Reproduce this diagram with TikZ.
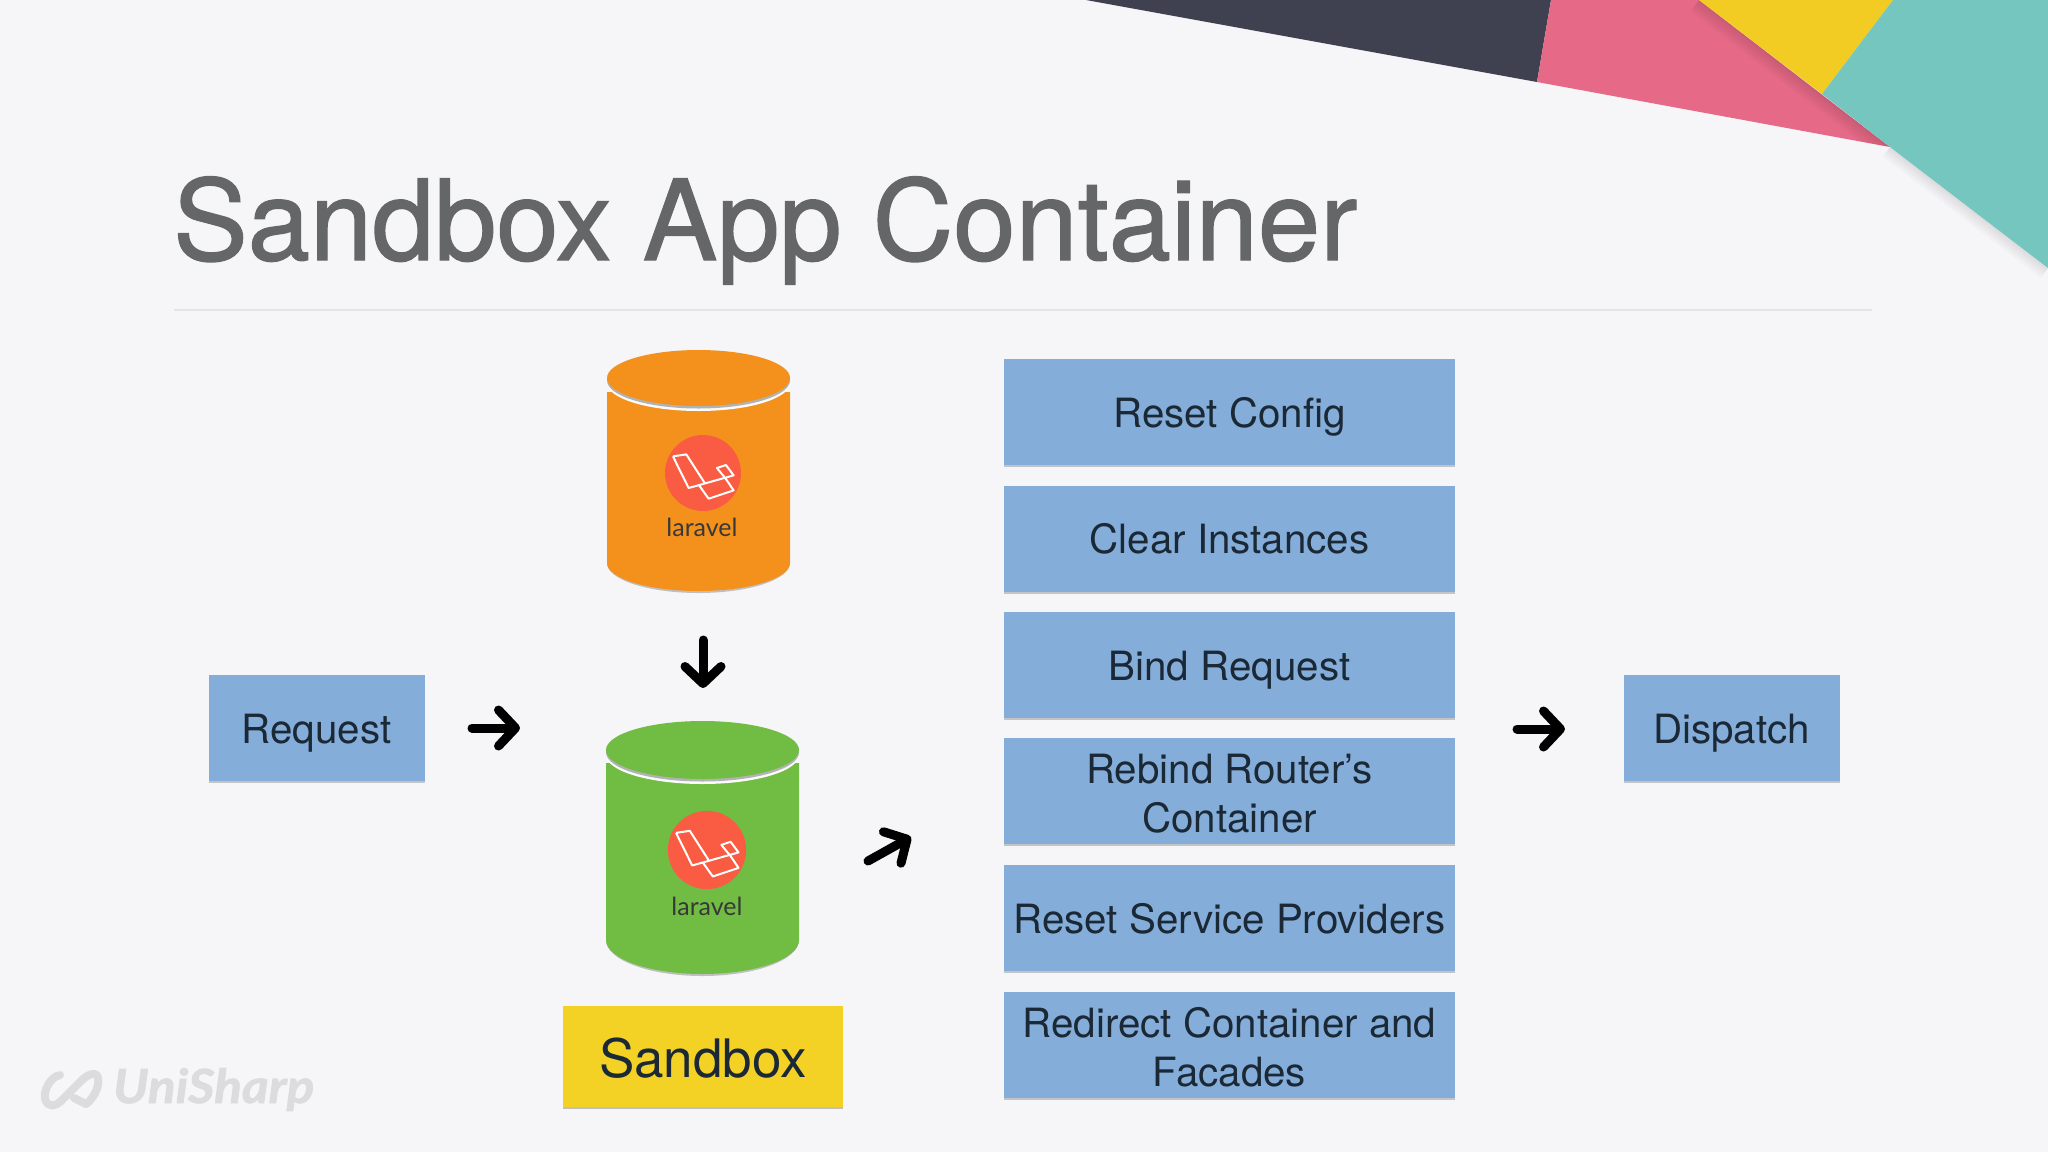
\documentclass[tikz,border=0pt]{standalone}
\usepackage{fontspec}
\setmainfont{TeX Gyre Heros}
\newfontfamily\titlefont[FakeBold=1.2]{TeX Gyre Heros}
\newfontfamily\lblfont{Lato}
\newfontfamily\brandfont{Lato}[BoldItalicFeatures={FakeStretch=1.09,FakeBold=1.6}]
\usetikzlibrary{arrows.meta}
\definecolor{bgc}{HTML}{F6F6F8}
\definecolor{boxblue}{HTML}{84ADD9}
\definecolor{inkc}{HTML}{1B2835}
\definecolor{titlec}{HTML}{646668}
\definecolor{ruleg}{HTML}{E4E4E6}
\definecolor{darkc}{HTML}{3F4150}
\definecolor{pinkc}{HTML}{E66A88}
\definecolor{yelc}{HTML}{F2CC22}
\definecolor{tealc}{HTML}{75C6BF}
\definecolor{orangec}{HTML}{F4911C}
\definecolor{greenc}{HTML}{71BC43}
\definecolor{sandc}{HTML}{F4D225}
\definecolor{redc}{HTML}{F95C42}
\definecolor{brandc}{HTML}{DCDCDE}
\newcommand{\onel}{\rule[-10pt]{0pt}{50pt}}
\newcommand{\topl}{\rule{0pt}{40pt}}
\newcommand{\botl}{\rule[-7pt]{0pt}{7pt}}
\tikzset{
  x=1pt,y=-1pt,
  stepbox/.style={fill=boxblue,minimum width=451pt,minimum height=106pt,inner sep=0pt,align=center,
    font=\fontsize{40.3}{49}\selectfont,text=inkc},
  sidebox/.style={stepbox,minimum width=216pt},
  bigarrow/.style={line width=9pt,line cap=round,black,
    -{Straight Barb[round,length=17pt,width=36pt,line width=9pt]}},
  lbl/.style={font=\lblfont\fontsize{25}{25}\selectfont,text=black!78,inner sep=0pt},
  lara/.pic={
    \fill[redc] (0,0) circle[radius=38];
    \draw[white,line width=2pt,line join=round,xshift=-142.7pt,yshift=143.3pt,x=0.3333pt,y=-0.3333pt]
      (338,380)--(378,374)--(432,458)
      (338,380)--(385,475)--(520,437)--(497,406)--(470,415)--(497,448)--(520,482)--(445,507)--(415,465);
  },
}
% #1 colour, #2 left, #3 right, #4 ellipse centre y, #5 ellipse ry, #6 side start, #7 side end, #8 bottom y
\newcommand{\tincan}[8]{%
  \fill[black,opacity=.22] (#2,#7) arc[start angle=180,end angle=0,x radius=(#3-#2)/2,y radius=#8-#7+2] -- cycle;
  \fill[#1] (#2,#6) -- (#2,#7) arc[start angle=180,end angle=0,x radius=(#3-#2)/2,y radius=#8-#7] -- (#3,#6) -- cycle;
  \fill[white!97!gray] ({(#2+#3)/2},#4+5) ellipse[x radius=(#3-#2)/2,y radius=#5];
  \fill[black!30!white] ({(#2+#3)/2},#4+2.5) ellipse[x radius=(#3-#2)/2,y radius=#5];
  \fill[#1] ({(#2+#3)/2},#4) ellipse[x radius=(#3-#2)/2,y radius=#5];
}
\begin{document}
\begin{tikzpicture}
\useasboundingbox (0,0) rectangle (2048,1152);
\fill[bgc] (0,0) rectangle (2048,1152);
% corner shapes
\fill[darkc] (1086,0) -- (1551,0) -- (1537,82) -- cycle;
\fill[pinkc] (1551,0) -- (1699,0) -- (1890,147) -- (1537,82) -- cycle;
\begin{scope}
  \clip (1551,0) -- (1699,0) -- (1890,147) -- (1537,82) -- cycle;
  \foreach \w in {4,10,16,22,28}{\draw[black,opacity=.025,line width=\w pt] (1699,0) -- (1890,147);}
\end{scope}
\fill[yelc] (1699,0) -- (1893,0) -- (1822,94) -- cycle;
\begin{scope}
  \clip (0,0) rectangle (2048,1152);
  \foreach \w in {4,9,14,19,24}{\draw[black,opacity=.018,line width=\w pt] (1890,147) -- (2048,268);}
\end{scope}
\fill[tealc] (1893,0) -- (2048,0) -- (2048,268) -- (1890,147) -- (1822,94) -- cycle;
% title and rule
\node[anchor=base west,inner sep=0pt,text=titlec,font=\titlefont\fontsize{111.8}{111}\selectfont] (title) at (173,260) {Sandbox App Container};
\coordinate (ruleL) at (174,310);
\coordinate (ruleR) at (1872,310);
\draw[ruleg,line width=2pt] (ruleL) -- (ruleR);
% cylinders
\tincan{orangec}{607}{790}{378}{28}{392}{563}{591}
\pic at (703,473) {lara};
\node[lbl] (lblA) at (702,527) {laravel};
\tincan{greenc}{606}{799}{750}{29}{763}{940}{974}
\pic[scale=1.03] at (707,850) {lara};
\node[lbl] (lblB) at (707,906) {laravel};
% box shadows
\foreach \yy in {412,538.5,665,791,918,1045}{\fill[black,opacity=.2] (1004,\yy-45) rectangle (1455,\yy+55);}
\foreach \xx in {316.5,1731.5}{\fill[black,opacity=.2] (\xx-108,690) rectangle (\xx+108,783);}
\fill[black,opacity=.22] (563,1020) rectangle (843,1109);
% boxes
\node[stepbox] (s1) at (1229.5,412) {\onel Reset Config};
\node[stepbox] (s2) at (1229.5,538.5) {\onel Clear Instances};
\node[stepbox] (s3) at (1229.5,665) {\onel Bind Request};
\node[stepbox] (s4) at (1229.5,791) {\topl Rebind Router’s\\Container\botl};
\node[stepbox] (s5) at (1229.5,918) {\onel Reset Service Providers};
\node[stepbox] (s6) at (1229.5,1045) {\topl Redirect Container and\\Facades\botl};
\node[sidebox] (req) at (316.5,728) {\onel Request};
\node[sidebox] (dis) at (1731.5,728) {\onel Dispatch};
\node[fill=sandc,minimum width=280pt,minimum height=101pt,inner sep=0pt,text=inkc,font=\fontsize{53}{60}\selectfont] (sand) at (703,1056.5) {\rule[-19pt]{0pt}{79pt}Sandbox};
% arrows
\coordinate (a1s) at (472,728); \coordinate (a1e) at (520,728);
\coordinate (a2s) at (703,640); \coordinate (a2e) at (703,688);
\coordinate (a3s) at (868,861); \coordinate (a3e) at (911,837);
\coordinate (a4s) at (1517,729); \coordinate (a4e) at (1565,729);
\draw[bigarrow] (a1s) -- (a1e);
\draw[bigarrow] (a2s) -- (a2e);
\draw[bigarrow] (a3s) -- (a3e);
\draw[bigarrow] (a4s) -- (a4e);
% brand
\draw[brandc,line width=8pt,line cap=round,line join=round]
  (60,1075) .. controls (48,1077) and (40,1098) .. (48,1104) .. controls (53,1108) and (60,1103) .. (64,1098)
  -- (82,1080) .. controls (88,1074) and (97,1071) .. (98,1078) .. controls (100,1088) and (92,1100) .. (86,1104)
  (74,1098) -- (86,1104);
\node[anchor=base west,inner sep=0pt,text=brandc,font=\brandfont\bfseries\itshape\fontsize{47}{47}\selectfont] (brand) at (113,1103) {UniSharp};
\end{tikzpicture}
\end{document}
